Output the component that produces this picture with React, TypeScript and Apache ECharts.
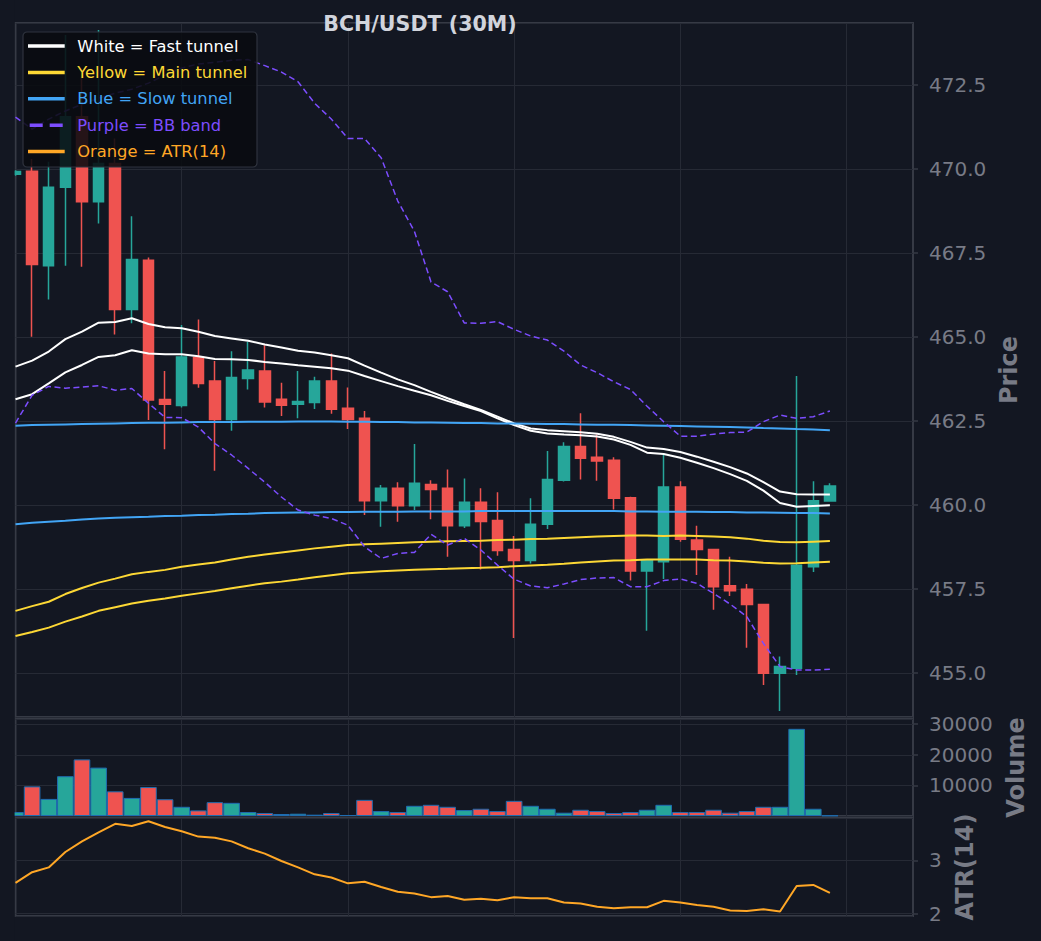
import React, { useEffect, useRef } from "react";
import * as echarts from "echarts";

// ---- data (index 0..49 = 30-minute bars) ----
const categories = Array.from({ length: 55 }, (_, i) => String(i));

const opens = [
  469.85, 469.94, 467.12, 469.46, 471.56, 469.03, 470.17, 465.82, 467.29, 463.14,
  462.96, 464.39, 463.69, 462.55, 463.77, 463.99, 463.15, 463.0, 463.05, 463.69,
  462.88, 462.58, 460.13, 460.5, 459.98, 460.61, 460.5, 459.38, 460.08, 459.54,
  458.68, 458.35, 459.43, 460.74, 461.74, 461.42, 461.33, 460.22, 458.04, 458.31,
  460.54, 458.96, 458.68, 457.6, 457.49, 457.04, 454.99, 455.14, 458.16, 460.12,
];
const closes = [
  469.93, 467.16, 469.46, 471.56, 469.03, 470.17, 465.82, 467.31, 463.13, 463.0,
  464.41, 463.62, 462.55, 463.8, 464.02, 463.07, 462.97, 463.08, 463.69, 462.85,
  462.55, 460.13, 460.5, 459.98, 460.65, 460.46, 459.38, 460.08, 459.51, 458.65,
  458.35, 459.43, 460.76, 461.74, 461.39, 461.31, 460.2, 458.04, 458.36, 460.54,
  458.98, 458.68, 457.57, 457.45, 457.04, 454.99, 455.19, 458.21, 460.13, 460.57,
];
const lows = [
  469.8, 465.01, 466.12, 467.12, 467.09, 468.38, 465.08, 465.41, 462.53, 461.66,
  462.9, 463.49, 461.02, 462.21, 463.44, 462.9, 462.65, 462.58, 462.86, 462.72,
  462.26, 459.7, 459.35, 459.5, 459.85, 459.58, 458.46, 459.32, 458.08, 458.49,
  456.04, 458.26, 459.29, 460.7, 460.76, 460.72, 459.87, 457.75, 456.26, 457.8,
  458.91, 457.92, 456.88, 457.29, 455.75, 454.64, 453.87, 454.94, 458.01, 460.1,
];
const highs = [
  469.97, 470.3, 470.22, 473.99, 472.75, 474.14, 470.91, 468.6, 467.37, 463.99,
  465.36, 465.52, 464.29, 464.58, 464.86, 464.76, 463.64, 463.99, 463.82, 464.51,
  463.5, 462.8, 460.6, 460.68, 461.82, 460.74, 461.06, 460.79, 460.5, 460.38,
  459.08, 460.2, 461.61, 461.87, 462.73, 462.1, 461.42, 460.25, 458.38, 461.49,
  460.71, 459.38, 458.7, 458.46, 457.65, 457.06, 455.49, 463.84, 460.71, 460.65,
];
const volumes = [
  1290, 9680, 5590, 13010, 18490, 15810, 8060, 5910, 9460, 5480,
  3010, 1830, 4520, 4300, 1290, 970, 650, 750, 430, 970,
  320, 5270, 1610, 1290, 3330, 3660, 3010, 1940, 2370, 1610,
  4950, 3330, 2370, 1080, 2040, 1610, 970, 1290, 2040, 3660,
  1290, 1290, 2040, 1080, 1610, 3010, 3010, 28490, 2370, 150,
];
const atr14 = [
  2.58, 2.78, 2.87, 3.16, 3.36, 3.53, 3.69, 3.65, 3.74, 3.63,
  3.55, 3.45, 3.43, 3.36, 3.23, 3.13, 2.99, 2.87, 2.74, 2.68,
  2.57, 2.6, 2.5, 2.41, 2.38, 2.31, 2.33, 2.26, 2.28, 2.25,
  2.31, 2.29, 2.29, 2.21, 2.19, 2.13, 2.1, 2.12, 2.12, 2.24,
  2.21, 2.16, 2.13, 2.06, 2.05, 2.08, 2.04, 2.52, 2.54, 2.39,
];
const fastUpper = [
  464.12, 464.3, 464.57, 464.94, 465.16, 465.43, 465.45, 465.56, 465.39, 465.29,
  465.26, 465.16, 465.03, 464.96, 464.89, 464.78, 464.69, 464.59, 464.54, 464.46,
  464.37, 464.15, 463.94, 463.74, 463.57, 463.37, 463.18, 463.0, 462.83, 462.63,
  462.43, 462.28, 462.23, 462.2, 462.17, 462.12, 462.03, 461.88, 461.71, 461.67,
  461.58, 461.44, 461.29, 461.13, 460.94, 460.68, 460.4, 460.32, 460.31, 460.31,
];
const fastLower = [
  463.15, 463.3, 463.62, 463.95, 464.17, 464.41, 464.46, 464.61, 464.51, 464.49,
  464.49, 464.43, 464.35, 464.34, 464.32, 464.26, 464.21, 464.16, 464.12, 464.07,
  464.0, 463.84, 463.69, 463.54, 463.4, 463.27, 463.1, 462.95, 462.8, 462.58,
  462.38, 462.21, 462.13, 462.1, 462.08, 462.04, 461.95, 461.79, 461.56, 461.52,
  461.41, 461.26, 461.1, 460.92, 460.72, 460.43, 460.06, 459.95, 459.97, 459.99,
];
const mainUpper = [
  456.85, 456.99, 457.12, 457.35, 457.53, 457.69, 457.81, 457.94, 458.01, 458.07,
  458.16, 458.23, 458.29, 458.38, 458.46, 458.53, 458.59, 458.65, 458.71, 458.76,
  458.81, 458.83, 458.85, 458.87, 458.89, 458.91, 458.92, 458.93, 458.94, 458.96,
  458.97, 458.99, 459.0, 459.02, 459.04, 459.06, 459.08, 459.09, 459.09, 459.08,
  459.09, 459.08, 459.06, 459.04, 459.0, 458.94, 458.9, 458.89, 458.91, 458.93,
];
const mainLower = [
  456.1, 456.22, 456.35, 456.53, 456.68, 456.85, 456.96, 457.07, 457.15, 457.22,
  457.3, 457.37, 457.44, 457.52, 457.6, 457.67, 457.72, 457.78, 457.85, 457.91,
  457.97, 458.0, 458.03, 458.05, 458.07, 458.09, 458.1, 458.12, 458.13, 458.15,
  458.18, 458.2, 458.22, 458.25, 458.29, 458.32, 458.35, 458.36, 458.38, 458.38,
  458.38, 458.38, 458.36, 458.35, 458.32, 458.28, 458.26, 458.27, 458.29, 458.31,
];
const slowUpper = [
  462.36, 462.38, 462.39, 462.4, 462.41, 462.42, 462.43, 462.44, 462.45, 462.45,
  462.46, 462.47, 462.47, 462.47, 462.48, 462.48, 462.48, 462.49, 462.49, 462.49,
  462.48, 462.48, 462.47, 462.47, 462.46, 462.46, 462.45, 462.44, 462.44, 462.43,
  462.43, 462.42, 462.41, 462.41, 462.4, 462.39, 462.39, 462.38, 462.37, 462.36,
  462.35, 462.34, 462.33, 462.32, 462.31, 462.29, 462.28, 462.26, 462.25, 462.23,
];
const slowLower = [
  459.43, 459.47, 459.5, 459.53, 459.57, 459.6, 459.62, 459.64, 459.65, 459.67,
  459.68, 459.7, 459.71, 459.73, 459.74, 459.76, 459.77, 459.78, 459.78, 459.79,
  459.79, 459.8, 459.8, 459.8, 459.81, 459.81, 459.81, 459.81, 459.82, 459.82,
  459.82, 459.82, 459.82, 459.82, 459.82, 459.82, 459.82, 459.81, 459.81, 459.8,
  459.8, 459.8, 459.79, 459.79, 459.78, 459.78, 459.77, 459.76, 459.76, 459.75,
];
const bbUpper = [
  471.55, 471.19, 471.49, 471.73, 471.93, 472.11, 472.26, 472.38, 472.56, 472.8,
  473.01, 473.13, 473.18, 473.24, 473.26, 473.08, 472.89, 472.6, 471.96, 471.49,
  470.91, 470.91, 470.34, 469.05, 468.15, 466.64, 466.35, 465.42, 465.41, 465.46,
  465.23, 465.03, 464.91, 464.58, 464.17, 463.94, 463.67, 463.44, 462.94, 462.48,
  462.05, 462.05, 462.11, 462.16, 462.17, 462.48, 462.68, 462.58, 462.63, 462.8,
];
const bbLower = [
  462.44, 463.27, 463.53, 463.48, 463.51, 463.55, 463.42, 463.47, 463.03, 462.61,
  462.6, 462.32, 461.83, 461.49, 461.09, 460.68, 460.24, 459.85, 459.7, 459.6,
  459.4, 458.76, 458.41, 458.56, 458.59, 459.13, 458.81, 459.01, 458.66, 458.21,
  457.79, 457.59, 457.54, 457.65, 457.78, 457.83, 457.84, 457.57, 457.57, 457.75,
  457.8, 457.67, 457.37, 457.05, 456.68, 455.88, 455.19, 455.09, 455.09, 455.11,
];

const priceTicks = [455, 457.5, 460, 462.5, 465, 467.5, 470, 472.5];
const volumeTicks = [10000, 20000, 30000];
const atrTicks = [2, 3];

const legendLabels = [
  "White = Fast tunnel",
  "Yellow = Main tunnel",
  "Blue = Slow tunnel",
  "Purple = BB band",
  "Orange = ATR(14)",
];

// ---- styles ----
const BG = "#131722";
const UP = "#26a69a";
const DOWN = "#ef5350";
const WHITE = "#ffffff";
const YELLOW = "#fdd835";
const BLUE = "#42a5f5";
const PURPLE = "#7c4dff";
const ORANGE = "#ffa726";
const legendColors = [WHITE, YELLOW, BLUE, PURPLE, ORANGE];
const BORDER = "#363a45";
const GRIDLINE = "#262a35";
const TEXT_GRAY = "#787b86";
const FONT = "DejaVu Sans";

const isTick = (list: number[]) => (v: number) =>
  list.some((t) => Math.abs(t - v) < 1e-6);

export default function App() {
  const ref = useRef<HTMLDivElement>(null);

  useEffect(() => {
    if (!ref.current) return;
    const chart = echarts.init(ref.current, undefined, { renderer: "svg" });

    const gridBase = {
      left: 15.5,
      right: 128,
      show: true,
      borderColor: BORDER,
      borderWidth: 2,
      backgroundColor: "transparent",
      containLabel: false,
      outerBoundsMode: "none",
    };

    const xAxisBase = (gridIndex: number) => ({
      gridIndex,
      type: "category",
      data: categories,
      boundaryGap: false,
      axisLine: { show: false },
      axisTick: { show: false },
      axisLabel: { show: false },
      splitLine: {
        show: true,
        interval: (i: number) => i > 0 && i % 10 === 0,
        lineStyle: { color: GRIDLINE, width: 1 },
      },
    });

    const yAxisBase = (gridIndex: number) => ({
      gridIndex,
      type: "value",
      position: "right",
      scale: true,
      axisLine: { show: false },
      axisTick: { show: true, length: 5, lineStyle: { color: BORDER, width: 1.5 } },
      splitLine: { show: true, lineStyle: { color: GRIDLINE, width: 1 } },
      nameLocation: "middle",
      nameRotate: 90,
      nameTextStyle: {
        color: TEXT_GRAY,
        fontSize: 24,
        fontWeight: "bold",
        fontFamily: FONT,
      },
    });

    const labelStyle = {
      color: TEXT_GRAY,
      fontSize: 20,
      fontFamily: FONT,
      margin: 16,
      showMinLabel: false,
      showMaxLabel: false,
    };

    const candleData = opens.map((o, i) => [o, closes[i], lows[i], highs[i]]);
    const volumeData = volumes.map((v, i) => ({
      value: v,
      itemStyle: { color: closes[i] >= opens[i] ? UP : DOWN },
    }));

    const line = (name: string, data: number[], color: string, width: number, dashed = false, axis = 0) => ({
      name,
      type: "line",
      xAxisIndex: axis,
      yAxisIndex: axis,
      data,
      symbol: "none",
      silent: true,
      z: 3,
      lineStyle: { color, width, type: dashed ? [6, 3.5] : "solid" },
    });

    const LZ = 200;
    const legendChildren: any[] = [
      {
        type: "rect",
        z: LZ,
        shape: { x: 0, y: 0, width: 234, height: 135, r: 4 },
        style: { fill: "rgba(9,11,16,0.88)", stroke: "#2f333e", lineWidth: 1.2 },
      },
    ];
    legendLabels.forEach((label, k) => {
      const cy = 14 + 26.4 * k;
      legendChildren.push({
        type: "line",
        z: LZ + 1,
        shape: { x1: k === 3 ? 6.7 : 5, y1: cy, x2: k === 3 ? 40 : 41.7, y2: cy },
        style: {
          stroke: legendColors[k],
          lineWidth: 3.5,
          lineDash: k === 3 ? [13, 7] : null,
        },
      });
      legendChildren.push({
        type: "text",
        z: LZ + 1,
        x: 54.3,
        y: cy,
        style: {
          text: label,
          fill: legendColors[k],
          font: `16.3px "${FONT}"`,
          verticalAlign: "middle",
          align: "left",
        },
      });
    });

    chart.setOption({
      animation: false,
      backgroundColor: BG,
      textStyle: { fontFamily: FONT },
      grid: [
        { ...gridBase, top: 23, height: 694 },
        { ...gridBase, top: 719, height: 97 },
        { ...gridBase, top: 818, height: 98 },
      ],
      xAxis: [xAxisBase(0), xAxisBase(1), xAxisBase(2)],
      yAxis: [
        {
          ...yAxisBase(0),
          min: 453.69,
          max: 474.35,
          splitNumber: 8,
          minInterval: 2.5,
          maxInterval: 2.5,
          name: "Price",
          nameGap: 83,
          axisLabel: {
            ...labelStyle,
            formatter: (v: number) => (isTick(priceTicks)(v) ? v.toFixed(1) : ""),
          },
        },
        {
          ...yAxisBase(1),
          min: 0,
          max: 31700,
          interval: 10000,
          name: "Volume",
          nameGap: 88,
          axisLabel: {
            ...labelStyle,
            formatter: (v: number) => (isTick(volumeTicks)(v) ? String(v) : ""),
          },
        },
        {
          ...yAxisBase(2),
          min: 1.955,
          max: 3.8,
          splitNumber: 2,
          minInterval: 1,
          maxInterval: 1,
          name: "ATR(14)",
          nameGap: 34,
          axisLabel: {
            ...labelStyle,
            formatter: (v: number) => (isTick(atrTicks)(v) ? String(Math.round(v)) : ""),
          },
        },
      ],
      series: [
        {
          name: "BCH/USDT",
          type: "candlestick",
          xAxisIndex: 0,
          yAxisIndex: 0,
          data: candleData,
          barWidth: 11,
          clip: true,
          silent: true,
          z: 2,
          itemStyle: {
            color: UP,
            color0: DOWN,
            borderColor: UP,
            borderColor0: DOWN,
            borderWidth: 1.5,
          },
        },
        line("Fast tunnel upper", fastUpper, WHITE, 2),
        line("Fast tunnel lower", fastLower, WHITE, 2),
        line("Main tunnel upper", mainUpper, YELLOW, 2),
        line("Main tunnel lower", mainLower, YELLOW, 2),
        line("Slow tunnel upper", slowUpper, BLUE, 2),
        line("Slow tunnel lower", slowLower, BLUE, 2),
        line("BB upper", bbUpper, PURPLE, 1.5, true),
        line("BB lower", bbLower, PURPLE, 1.5, true),
        {
          name: "Volume",
          type: "bar",
          xAxisIndex: 1,
          yAxisIndex: 1,
          data: volumeData,
          barWidth: "100%",
          clip: true,
          silent: true,
          itemStyle: { borderColor: "#1f6cb0", borderWidth: 1 },
        },
        line("ATR(14)", atr14, ORANGE, 2, false, 2),
      ],
      graphic: [
        {
          // masks the half of the first bar that lies left of the plot frame
          type: "rect",
          z: 150,
          shape: { x: 0, y: 0, width: 14.6, height: 941 },
          style: { fill: BG },
        },
        {
          type: "text",
          x: 420,
          y: 23.5,
          z: 160,
          style: {
            text: "BCH/USDT (30M)",
            fill: "#d1d4dc",
            font: `bold 20.6px "${FONT}"`,
            align: "center",
            verticalAlign: "middle",
          },
        },
        {
          type: "group",
          x: 23,
          y: 32,
          z: LZ,
          children: legendChildren,
        },
      ],
    });

    return () => chart.dispose();
  }, []);

  return (
    <div
      ref={ref}
      style={{ position: "absolute", left: 0, top: 0, width: 1041, height: 941, background: BG }}
    />
  );
}
